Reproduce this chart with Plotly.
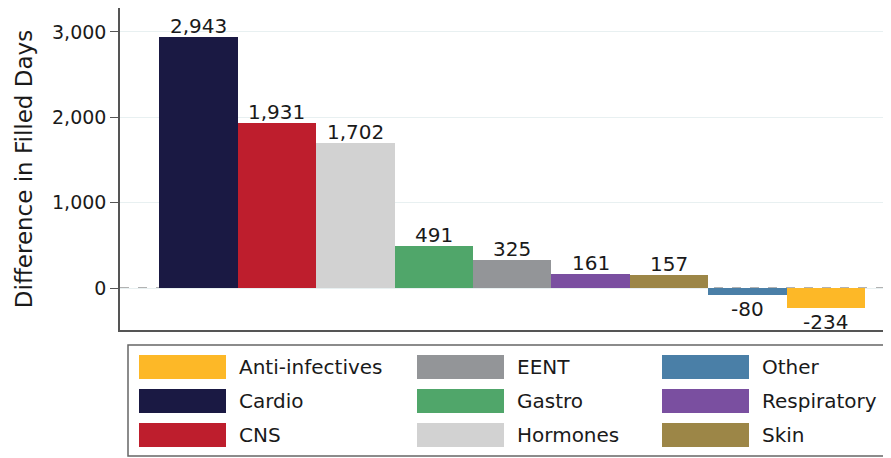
import plotly.graph_objects as go

# Bars, in the order they are drawn (largest to smallest)
categories = ["Cardio", "CNS", "Hormones", "Gastro", "EENT",
              "Respiratory", "Skin", "Other", "Anti-infectives"]
values = [2943, 1931, 1702, 491, 325, 161, 157, -80, -234]

colors = {
    "Anti-infectives": "#FDB827",
    "Cardio": "#1A1943",
    "CNS": "#BE1E2D",
    "EENT": "#939598",
    "Gastro": "#50A66A",
    "Hormones": "#D2D2D2",
    "Other": "#4A7FA7",
    "Respiratory": "#7A4FA0",
    "Skin": "#9C8647",
}

# Legend columns (filled top to bottom)
legend_columns = [
    ["Anti-infectives", "Cardio", "CNS"],
    ["EENT", "Gastro", "Hormones"],
    ["Other", "Respiratory", "Skin"],
]

y_ticks = [0, 1000, 2000, 3000]
y_ticklabels = ["0", "1,000", "2,000", "3,000"]

# the page puts the figure 8px in from the top left corner
OFF = 8
W, H = 891 - OFF, 458 - OFF
L, T, B = 120 - OFF, 8 - OFF, 330 - OFF  # plot area edges in figure pixels

FONT = "DejaVu Sans, Arial, sans-serif"
TXT = "#1a1a1a"
AX = "#555555"


def px_x(px):
    # px given in page pixels
    return (px - OFF - L) / (W - L)


def px_y(py):
    return (B - (py - OFF)) / (B - T)


fig = go.Figure()

xs = list(range(len(categories)))
fig.add_trace(go.Bar(
    x=xs,
    y=values,
    width=1.0,
    marker=dict(color=[colors[c] for c in categories], line=dict(width=0)),
    showlegend=False,
    hovertext=categories,
))

# value labels sit right on the bar ends, like Stata's blabel
for x, v in zip(xs, values):
    fig.add_annotation(x=x, y=v, xref="x", yref="y", text=f"{v:,}", showarrow=False,
                       yanchor="bottom" if v >= 0 else "top",
                       yshift=-3 if v >= 0 else 0,
                       font=dict(size=20, color=TXT, family=FONT))

# dashed zero line
fig.add_shape(type="line", xref="paper", yref="y", x0=0, x1=1, y0=0, y1=0,
              line=dict(color="#999999", width=1.3, dash="dash"), layer="below")

# legend box, Stata style, drawn by hand
fig.add_shape(type="rect", xref="paper", yref="paper",
              x0=px_x(128), x1=px_x(896), y0=px_y(456), y1=px_y(345),
              line=dict(color="#666666", width=1.5), fillcolor="white")

col_x = [139, 417, 662]
row_y = [367, 401, 435]
for ci, col in enumerate(legend_columns):
    for ri, name in enumerate(col):
        x0 = col_x[ci]
        yc = row_y[ri]
        fig.add_shape(type="rect", xref="paper", yref="paper",
                      x0=px_x(x0), x1=px_x(x0 + 87),
                      y0=px_y(yc + 12), y1=px_y(yc - 12),
                      line=dict(width=0), fillcolor=colors[name])
        fig.add_annotation(x=px_x(x0 + 98), y=px_y(yc), xref="paper", yref="paper",
                           text=name, showarrow=False, xanchor="left", yanchor="middle",
                           font=dict(size=20, color=TXT, family=FONT))

fig.update_xaxes(
    range=[-1.0, 8.83],
    showticklabels=False,
    ticks="",
    showgrid=False,
    zeroline=False,
    showline=True,
    linecolor=AX,
    linewidth=1.5,
)

fig.update_yaxes(
    range=[-492, 3281],
    tickmode="array",
    tickvals=y_ticks,
    ticktext=y_ticklabels,
    ticks="outside",
    ticklen=8,
    tickwidth=1.2,
    tickcolor=AX,
    tickfont=dict(size=19, color=TXT, family=FONT),
    showgrid=True,
    gridcolor="#e8f0f1",
    gridwidth=1,
    zeroline=False,
    showline=True,
    linecolor=AX,
    linewidth=1.5,
    title=dict(text="Difference in Filled Days",
               font=dict(size=23, color=TXT, family=FONT), standoff=13),
)

fig.update_layout(
    width=W,
    height=H,
    margin=dict(l=L, r=0, t=T, b=H - B, autoexpand=False),
    plot_bgcolor="white",
    paper_bgcolor="white",
    font=dict(family=FONT),
    bargap=0,
)

fig.write_html("out.html")
